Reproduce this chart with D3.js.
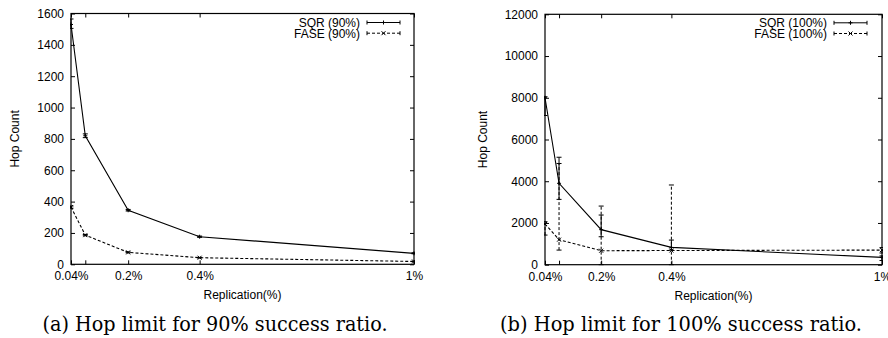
<!DOCTYPE html>
<html><head><meta charset="utf-8">
<script src="https://cdn.jsdelivr.net/npm/d3@7/dist/d3.min.js"></script>
<style>
body{margin:0;background:#fff}svg{display:block}
.sans{font-family:"Liberation Sans","Arial",sans-serif}
.serif{font-family:"DejaVu Serif",serif}
</style>
</head><body>
<svg id="c" width="888" height="338"></svg>
<script>
const replication = [0.04, 0.08, 0.2, 0.4, 1];
const xTickLabels = ["0.04%", "0.2%", "0.4%", "1%"];
const xTickLabelValues = [0.04, 0.2, 0.4, 1];

// Panel (a): 90% success ratio
const sqr90 = [1530, 820, 345, 176, 70];
const sqr90Low = [1505, 808, 340, 172, 67];
const sqr90High = [1565, 832, 350, 180, 73];
const fase90 = [365, 186, 76, 42, 18];
const fase90Low = [358, 182, 73, 40, 16];
const fase90High = [372, 190, 79, 44, 20];
const yTicks90 = [0, 200, 400, 600, 800, 1000, 1200, 1400, 1600];

// Panel (b): 100% success ratio
const sqr100 = [8000, 3900, 1680, 830, 350];
const sqr100Low = [7150, 3130, 1340, 700, 200];
const sqr100High = [8050, 5150, 2380, 1180, 420];
const fase100 = [1950, 1200, 670, 680, 700];
const fase100Low = [1420, 700, 0, 0, 560];
const fase100High = [2060, 4850, 2810, 3820, 820];
const yTicks100 = [0, 2000, 4000, 6000, 8000, 10000, 12000];

const svg = d3.select("#c");
const FS = 12;

function panel(o) {
  const g = svg.append("g");
  const x = d3.scaleLinear().domain([0.04, 1]).range([o.x0, o.x1]);
  const y = d3.scaleLinear().domain([0, o.yMax]).range([o.yb, o.yt]);

  g.append("rect").attr("x", o.x0).attr("y", o.yt).attr("width", o.x1 - o.x0).attr("height", o.yb - o.yt)
    .attr("fill", "none").attr("stroke", "#000").attr("stroke-width", 1.2);

  const ya = d3.axisLeft(y).tickValues(o.yTicks).tickSize(-4).tickPadding(7).tickFormat(d3.format("d"));
  const yg = g.append("g").attr("transform", `translate(${o.x0},0)`).call(ya);
  yg.select(".domain").remove();
  const yr = d3.axisRight(y).tickValues(o.yTicks).tickSize(-4).tickFormat("");
  const yrg = g.append("g").attr("transform", `translate(${o.x1},0)`).call(yr);
  yrg.select(".domain").remove();

  const xb = d3.axisBottom(x).tickValues(replication).tickSize(-4).tickFormat("");
  const xbg = g.append("g").attr("transform", `translate(0,${o.yb})`).call(xb);
  xbg.select(".domain").remove();
  const xt = d3.axisTop(x).tickValues(replication).tickSize(-4).tickFormat("");
  const xtg = g.append("g").attr("transform", `translate(0,${o.yt})`).call(xt);
  xtg.select(".domain").remove();
  const xl = d3.axisBottom(x).tickValues(xTickLabelValues).tickSize(0).tickPadding(7.5)
    .tickFormat((d, i) => xTickLabels[i]);
  const xlg = g.append("g").attr("transform", `translate(0,${o.yb})`).call(xl);
  xlg.select(".domain").remove();

  g.selectAll(".tick line").attr("stroke", "#000").attr("stroke-width", 1);
  g.selectAll(".tick text").attr("class", "sans").style("font-size", FS + "px").attr("fill", "#000");
  [yg, yrg, xbg, xtg, xlg].forEach(a => a.attr("font-family", null).attr("font-size", null));

  g.append("text").attr("class", "sans").style("font-size", FS + "px")
    .attr("x", (o.x0 + o.x1) / 2).attr("y", o.yb + 35).attr("text-anchor", "middle").text("Replication(%)");
  g.append("text").attr("class", "sans").style("font-size", FS + "px")
    .attr("transform", `translate(${o.ylx},${(o.yt + o.yb) / 2}) rotate(-90)`)
    .attr("text-anchor", "middle").text("Hop Count");

  g.append("text").attr("class", "serif").style("font-size", "19.5px")
    .attr("x", o.capX).attr("y", 330.5).attr("text-anchor", "middle")
    .attr("textLength", o.capW).attr("lengthAdjust", "spacingAndGlyphs").text(o.caption);

  const clip = "clip" + o.id;
  g.append("clipPath").attr("id", clip).append("rect")
    .attr("x", o.x0 - 1).attr("y", o.yt).attr("width", o.x1 - o.x0 + 2).attr("height", o.yb - o.yt + 1);
  const pg = g.append("g").attr("clip-path", `url(#${clip})`);

  function drawMarker(p, m, cx, cy) {
    const s = 2;
    if (m === "plus") {
      p.append("path").attr("d", `M${cx - s},${cy}H${cx + s}M${cx},${cy - s}V${cy + s}`).attr("stroke", "#000").attr("stroke-width", 1);
    } else {
      p.append("path").attr("d", `M${cx - s},${cy - s}L${cx + s},${cy + s}M${cx - s},${cy + s}L${cx + s},${cy - s}`).attr("stroke", "#000").attr("stroke-width", 1);
    }
  }
  function series(vals, lo, hi, dash, marker) {
    const line = d3.line().x((d, i) => x(replication[i])).y(d => y(d));
    pg.append("path").datum(vals).attr("d", line).attr("fill", "none").attr("stroke", "#000")
      .attr("stroke-width", 1.1).attr("stroke-dasharray", dash);
    replication.forEach((r, i) => {
      const cx = x(r);
      pg.append("line").attr("x1", cx).attr("x2", cx).attr("y1", y(lo[i])).attr("y2", y(hi[i]))
        .attr("stroke", "#000").attr("stroke-width", 1).attr("stroke-dasharray", dash);
      [lo[i], hi[i]].forEach(v => pg.append("line").attr("x1", cx - 2.5).attr("x2", cx + 2.5)
        .attr("y1", y(v)).attr("y2", y(v)).attr("stroke", "#000").attr("stroke-width", 1));
      drawMarker(pg, marker, cx, y(vals[i]));
    });
  }
  series(o.sqr, o.sqrLo, o.sqrHi, null, "plus");
  series(o.fase, o.faseLo, o.faseHi, "3,2", "cross");

  const leg = [[o.names[0], null, "plus"], [o.names[1], "3,2", "cross"]];
  leg.forEach((l, i) => {
    const ly = o.legY + i * 10.7;
    g.append("text").attr("class", "sans").style("font-size", FS + "px")
      .attr("x", o.legTextX).attr("y", ly + 4.3).attr("text-anchor", "end").text(l[0]);
    g.append("line").attr("x1", o.legX0).attr("x2", o.legX1).attr("y1", ly).attr("y2", ly)
      .attr("stroke", "#000").attr("stroke-width", 1).attr("stroke-dasharray", l[1]);
    [o.legX0, o.legX1].forEach(xx => g.append("line").attr("x1", xx).attr("x2", xx).attr("y1", ly - 2).attr("y2", ly + 2)
      .attr("stroke", "#000").attr("stroke-width", 1));
    drawMarker(g, l[2], (o.legX0 + o.legX1) / 2, ly);
  });
}

panel({id: "a", x0: 71, x1: 414, yt: 13.5, yb: 264.3, yMax: 1600, yTicks: yTicks90, ylx: 19,
  sqr: sqr90, sqrLo: sqr90Low, sqrHi: sqr90High, fase: fase90, faseLo: fase90Low, faseHi: fase90High,
  names: ["SQR (90%)", "FASE (90%)"], legTextX: 360, legX0: 367, legX1: 400, legY: 22.5,
  caption: "(a) Hop limit for 90% success ratio.", capX: 215, capW: 345});
panel({id: "b", x0: 545, x1: 882, yt: 14.3, yb: 264.7, yMax: 12000, yTicks: yTicks100, ylx: 487,
  sqr: sqr100, sqrLo: sqr100Low, sqrHi: sqr100High, fase: fase100, faseLo: fase100Low, faseHi: fase100High,
  names: ["SQR (100%)", "FASE (100%)"], legTextX: 827, legX0: 834, legX1: 867, legY: 22.8,
  caption: "(b) Hop limit for 100% success ratio.", capX: 681, capW: 362});
</script>
</body></html>
